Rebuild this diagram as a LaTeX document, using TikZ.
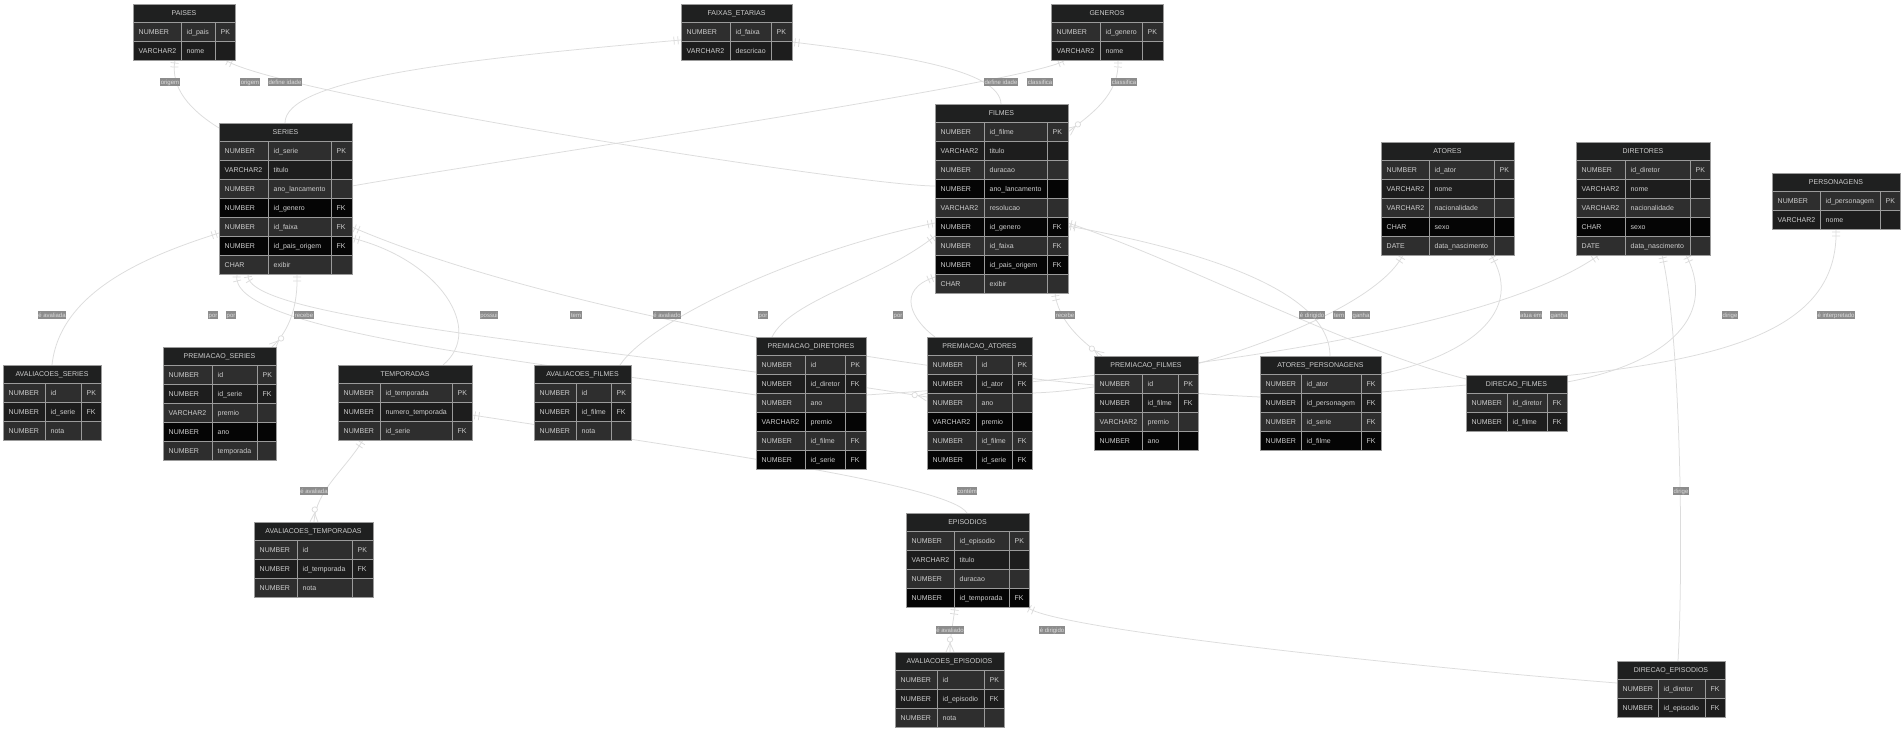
\documentclass[tikz,border=0pt]{standalone}
\usepackage{fontspec}
\setmainfont{Liberation Sans}
\usetikzlibrary{calc,backgrounds,decorations.markings}
\definecolor{hc}{RGB}{31,32,32}
\definecolor{lc}{RGB}{46,46,46}
\definecolor{dc}{RGB}{29,29,29}
\definecolor{bc}{RGB}{5,5,5}
\definecolor{gc}{RGB}{155,155,155}
\definecolor{tc}{RGB}{205,205,205}
\definecolor{ec}{RGB}{220,220,220}
\definecolor{lbc}{RGB}{140,140,140}
\tikzset{ent/.style={draw=gc,line width=.8pt,inner sep=0pt,outer sep=0pt},
 cell/.style={draw=gc,line width=.8pt},
 etit/.style={text=tc,font=\fontsize{7}{8}\selectfont,inner sep=0pt,text height=5pt,text depth=0pt},
 etxt/.style={etit,anchor=west},
 lbl/.style={fill=lbc,text=ec,font=\fontsize{6}{7}\selectfont,inner xsep=.6pt,inner ysep=1.8pt,text height=4.4pt,text depth=0pt},
 mk/.style={draw=ec,line width=.75pt},
 erl/.style={draw=ec,line width=.75pt,postaction={decorate,decoration={markings,
  mark=at position 3pt with {\draw[mk] (0,-4pt)--(0,4pt);},
  mark=at position 7pt with {\draw[mk] (0,-4pt)--(0,4pt);},
  mark=at position 1 with {\draw[mk] (0,4pt)--(-9pt,0)--(0,-4pt);\draw[mk,fill=white] (-12.5pt,0) circle (2.7pt);}}}}}
\newcommand{\erent}[9]{%
 \node[ent,minimum width={(#4+#5+#6)*1pt},minimum height={(18+19*#7)*1pt},anchor=north west] (#1) at (#2,#3) {};
 \draw[cell,fill=hc] (#2,#3) rectangle ++(#4+#5+#6,18);
 \node[etit] (#1-h) at ($(#1.north)+(0,9)$) {#8};
 \foreach \ty/\nm/\ky [count=\i] in {#9}{%
  \ifnum\i=2 \def\rc{dc}\else\ifodd\i\def\rc{lc}\else\def\rc{bc}\fi\fi
  \pgfmathsetmacro\ry{#3+18+19*(\i-1)}
  \draw[cell,fill=\rc] (#2,\ry) rectangle ++(#4,19) ++(0,-19) rectangle ++(#5,19) ++(0,-19) rectangle ++(#6,19);
  \node[etxt] (#1-a\i) at ({#2+5.5},{\ry+9.5}) {\ty};
  \node[etxt] (#1-b\i) at ({#2+#4+5.5},{\ry+9.5}) {\nm};
  \node[etxt] (#1-c\i) at ({#2+#4+#5+5.5},{\ry+9.5}) {\ky};}}
\begin{document}
\begin{tikzpicture}[x=1pt,y=-1pt]
\useasboundingbox (0,0) rectangle (1904,731);
\erent{paises}{133}{4}{48}{34}{20}{2}{PAISES}{NUMBER/id\_pais/PK,VARCHAR2/nome/{}}
\erent{faixas}{681}{4}{49}{41}{21}{2}{FAIXAS\_ETARIAS}{NUMBER/id\_faixa/PK,VARCHAR2/descricao/{}}
\erent{generos}{1051}{4}{49}{42}{21}{2}{GENEROS}{NUMBER/id\_genero/PK,VARCHAR2/nome/{}}
\erent{series}{219}{123}{49}{63}{21}{7}{SERIES}{NUMBER/id\_serie/PK,VARCHAR2/titulo/{},NUMBER/ano\_lancamento/{},NUMBER/id\_genero/FK,NUMBER/id\_faixa/FK,NUMBER/id\_pais\_origem/FK,CHAR/exibir/{}}
\erent{filmes}{935}{104}{49}{63}{21}{9}{FILMES}{NUMBER/id\_filme/PK,VARCHAR2/titulo/{},NUMBER/duracao/{},NUMBER/ano\_lancamento/{},VARCHAR2/resolucao/{},NUMBER/id\_genero/FK,NUMBER/id\_faixa/FK,NUMBER/id\_pais\_origem/FK,CHAR/exibir/{}}
\erent{atores}{1381}{142}{48}{65}{20}{5}{ATORES}{NUMBER/id\_ator/PK,VARCHAR2/nome/{},VARCHAR2/nacionalidade/{},CHAR/sexo/{},DATE/data\_nascimento/{}}
\erent{diretores}{1576}{142}{49}{65}{20}{5}{DIRETORES}{NUMBER/id\_diretor/PK,VARCHAR2/nome/{},VARCHAR2/nacionalidade/{},CHAR/sexo/{},DATE/data\_nascimento/{}}
\erent{personagens}{1772}{173}{48}{60}{20}{2}{PERSONAGENS}{NUMBER/id\_personagem/PK,VARCHAR2/nome/{}}
\erent{avser}{3}{365}{42}{36}{20}{3}{AVALIACOES\_SERIES}{NUMBER/id/PK,NUMBER/id\_serie/FK,NUMBER/nota/{}}
\erent{prser}{163}{347}{49}{45}{19}{5}{PREMIACAO\_SERIES}{NUMBER/id/PK,NUMBER/id\_serie/FK,VARCHAR2/premio/{},NUMBER/ano/{},NUMBER/temporada/{}}
\erent{temp}{338}{365}{42}{72}{20}{3}{TEMPORADAS}{NUMBER/id\_temporada/PK,NUMBER/numero\_temporada/{},NUMBER/id\_serie/FK}
\erent{avfil}{534}{365}{42}{35}{20}{3}{AVALIACOES\_FILMES}{NUMBER/id/PK,NUMBER/id\_filme/FK,NUMBER/nota/{}}
\erent{prdir}{756}{337}{49}{40}{21}{6}{PREMIACAO\_DIRETORES}{NUMBER/id/PK,NUMBER/id\_diretor/FK,NUMBER/ano/{},VARCHAR2/premio/{},NUMBER/id\_filme/FK,NUMBER/id\_serie/FK}
\erent{prat}{927}{337}{49}{36}{20}{6}{PREMIACAO\_ATORES}{NUMBER/id/PK,NUMBER/id\_ator/FK,NUMBER/ano/{},VARCHAR2/premio/{},NUMBER/id\_filme/FK,NUMBER/id\_serie/FK}
\erent{prfil}{1094}{356}{48}{36}{20}{4}{PREMIACAO\_FILMES}{NUMBER/id/PK,NUMBER/id\_filme/FK,VARCHAR2/premio/{},NUMBER/ano/{}}
\erent{atpers}{1260}{356}{41}{60}{20}{4}{ATORES\_PERSONAGENS}{NUMBER/id\_ator/FK,NUMBER/id\_personagem/FK,NUMBER/id\_serie/FK,NUMBER/id\_filme/FK}
\erent{dirfil}{1466}{375}{41}{40}{20}{2}{DIRECAO\_FILMES}{NUMBER/id\_diretor/FK,NUMBER/id\_filme/FK}
\erent{avtemp}{254}{522}{43}{55}{21}{3}{AVALIACOES\_TEMPORADAS}{NUMBER/id/PK,NUMBER/id\_temporada/FK,NUMBER/nota/{}}
\erent{epis}{906}{513}{48}{55}{20}{4}{EPISODIOS}{NUMBER/id\_episodio/PK,VARCHAR2/titulo/{},NUMBER/duracao/{},NUMBER/id\_temporada/FK}
\erent{avep}{895}{652}{42}{47}{20}{3}{AVALIACOES\_EPISODIOS}{NUMBER/id/PK,NUMBER/id\_episodio/FK,NUMBER/nota/{}}
\erent{direp}{1617}{661}{41}{47}{20}{2}{DIRECAO\_EPISODIOS}{NUMBER/id\_diretor/FK,NUMBER/id\_episodio/FK}
\foreach \n/\x/\y/\t in {l1/170/82/origem,l2/250/82/origem,l3/285/82/define idade,l4/1001/82/define idade,
 l5/1040/82/classifica,l6/1124/82/classifica,l7/52/315/é avaliada,l8/304/315/recebe,l9/489/315/possui,
 l10/213/315/por,l11/231/315/por,l12/576/315/tem,l13/667/315/é avaliado,l14/763/315/por,l15/898/315/por,
 l16/1065/315/recebe,l17/1312/315/é dirigido,l18/1339/315/tem,l19/1361/315/ganha,l20/1531/315/atua em,
 l21/1559/315/ganha,l22/1730/315/dirige,l23/1836/315/é interpretado,l24/967/491/contém,l25/314/491/é avaliada,
 l26/950/630/é avaliado,l27/1052/630/é dirigido,l28/1681/491/dirige}{\node[lbl] (\n) at (\x,\y) {\t};}
\begin{scope}[on background layer]
\fill[white] (0,0) rectangle (1904,731);
\foreach \a/\ax/\ay/\cx/\cy/\ux/\uy/\b/\bx/\by in {paises/42/56/170/88/190/110/series/0/5,
 paises/92/56/280/95/860/186/filmes/0/82,faixas/0/36/450/60/285/80/series/66/0,
 faixas/111/38/900/55/1000/70/filmes/66/0,generos/14/56/1045/80/500/160/series/133/63,
 generos/67/56/1120/95/1090/115/filmes/133/28,series/0/110/150/255/60/290/avser/49/0,
 series/78/151/298/305/290/330/prser/109/0,series/133/115/440/260/485/330/temp/105/0,
 series/18/151/225/330/520/360/prdir/0/58,series/29/151/240/320/600/345/prat/0/60,
 series/133/104/520/300/900/380/atpers/0/41,filmes/0/119/800/250/650/320/avfil/86/0,
 filmes/0/132/880/280/790/300/prdir/16/0,filmes/0/173/895/290/912/320/prat/8/0,
 filmes/120/189/1058/320/1080/340/prfil/8/0,filmes/133/119/1180/260/1350/350/dirfil/0/4,
 filmes/133/122/1200/250/1330/290/atpers/70/0,atores/22/113/1370/320/1150/390/prat/105/56,
 atores/110/113/1530/320/1450/360/atpers/121/18,diretores/23/113/1480/340/1100/380/prdir/110/58,
 diretores/110/113/1720/320/1660/365/dirfil/101/7,personagens/64/56/1840/360/1650/370/atpers/121/36,
 temp/134/50/700/450/950/485/epis/61/0,temp/25/75/345/470/316/490/avtemp/60/0,
 epis/49/94/953/625/950/635/avep/55/0,epis/121/94/1050/630/1450/670/direp/0/22,
 diretores/86/113/1680/330/1684/550/direp/61/0}
 \draw[erl] ($(\a.north west)+(\ax,\ay)$) .. controls (\cx,\cy) and (\ux,\uy) .. ($(\b.north west)+(\bx,\by)$);
\end{scope}
\end{tikzpicture}
\end{document}
